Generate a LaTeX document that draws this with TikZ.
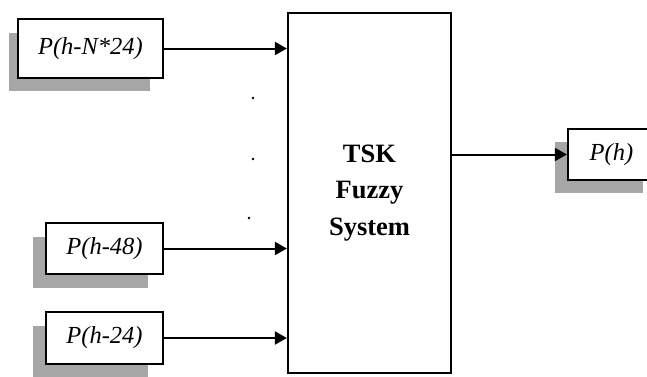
\documentclass[tikz,border=0pt]{standalone}
\usepackage{fontspec}
\setmainfont{Liberation Serif}
\usetikzlibrary{arrows.meta}
\begin{document}
\begin{tikzpicture}[x=1pt,y=-1pt,
  inbox/.style={draw=black,fill=white,line width=2.2pt,inner sep=0pt,
    font=\fontsize{24.5}{28}\selectfont\itshape},
  shadowfill/.style={fill=black!35},
  sysbox/.style={draw=black,fill=white,line width=2.2pt,inner sep=0pt,align=center,
    font=\fontsize{26.5}{36.5}\selectfont\bfseries},
  link/.style={line width=2pt,-{Triangle[length=12pt,width=13pt]}}]
\useasboundingbox (0,0) rectangle (647,376);
% drop shadows behind the input and output boxes
\fill[shadowfill] (9,33) rectangle (150,91);
\fill[shadowfill] (33,237) rectangle (148,288);
\fill[shadowfill] (33,326) rectangle (148,380);
\fill[shadowfill] (555,142) rectangle (643,193);
% boxes
\node[inbox,minimum width=145pt,minimum height=59pt] (in1) at (90.5,48.5) {P(h-N*24)};
\node[inbox,minimum width=117pt,minimum height=51pt] (in48) at (104.5,248.5) {P(h-48)};
\node[inbox,minimum width=117pt,minimum height=52pt] (in24) at (104.5,338) {P(h-24)};
\node[sysbox,minimum width=163pt,minimum height=360pt] (tsk) at (369.5,193) {TSK\\Fuzzy\\System};
\node[inbox,minimum width=87pt,minimum height=51pt] (out) at (611.5,154.5) {P(h)};
% ellipsis between the inputs
\fill (253,98) circle (1.3);
\fill (253,159) circle (1.3);
\fill (249,218) circle (1.3);
% connectors
\draw[link] (in1.east) -- (in1.east -| tsk.west);
\draw[link] (in48.east) -- (in48.east -| tsk.west);
\draw[link] (in24.east) -- (in24.east -| tsk.west);
\draw[link] (tsk.east |- out.west) -- (out.west);
\end{tikzpicture}
\end{document}
